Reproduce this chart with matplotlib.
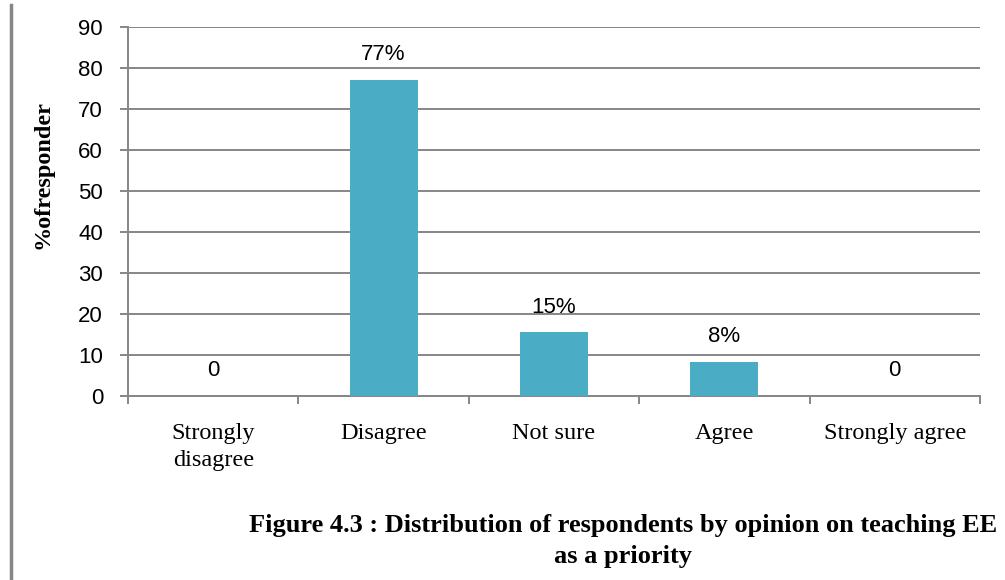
import matplotlib
matplotlib.use('Agg')
import matplotlib.pyplot as plt
from matplotlib.lines import Line2D

categorias = ['Strongly\ndisagree', 'Disagree', 'Not sure', 'Agree', 'Strongly agree']
valores    = [0, 77, 15.4, 8.2, 0]
etiquetas  = ['0', '77%', '15%', '8%', '0']
titulo     = 'Figure 4.3 : Distribution of respondents by opinion on teaching EE\nas a priority'

gris  = '#868686'
azul  = '#4BACC6'
sans  = 'Liberation Sans'
serif = 'Liberation Serif'

fig = plt.figure(figsize=[10.05, 5.8], dpi=100)
ax = fig.add_axes([0.1274, 0.3181, 0.975 - 0.1274, 0.954 - 0.3181])

x = list(range(len(categorias)))
ax.bar(x, valores, width=0.4, color=azul, zorder=3)

#__etiquetas de valor__#
for xi, v, t in zip(x, valores, etiquetas):
    ax.annotate(t, (xi, v), xytext=(0, 18), textcoords='offset points',
                ha='center', va='center', fontsize=16, family=sans, color='black')

ax.set_xlim(-0.5, len(categorias) - 0.5)
ax.set_ylim(0, 90)
ax.set_yticks(range(0, 91, 10))
ax.yaxis.grid(True, color=gris, linewidth=1.4, zorder=0)

ax.set_xticks(x)
ax.set_xticklabels(categorias, fontsize=17.5, family=serif, linespacing=1.35)
ax.set_xticks([i - 0.5 for i in range(len(categorias) + 1)], minor=True)
ax.tick_params(axis='x', which='major', length=0, pad=20)
ax.tick_params(axis='x', which='minor', length=6, width=1.4, color=gris, direction='out')
ax.tick_params(axis='y', length=6, width=1.4, color=gris, pad=12, labelsize=16)
for lbl in ax.get_yticklabels():
    lbl.set_family(sans)

for s in ['top', 'right']:
    ax.spines[s].set_visible(False)
for s in ['left', 'bottom']:
    ax.spines[s].set_color(gris)
    ax.spines[s].set_linewidth(1.4)

fig.text(43 / 1005, 1 - 175 / 580, '%ofresponder', rotation=90, ha='center', va='center',
         fontsize=17.5, fontweight='bold', family=serif)

fig.text(623 / 1005, 1 - 541 / 580, titulo, ha='center', va='center', multialignment='center',
         fontsize=19, fontweight='bold', family=serif, linespacing=1.45)

#__linea gris a la izquierda__#
fig.add_artist(Line2D([11 / 1005, 11 / 1005], [0, 1 - 5 / 580], color=gris, linewidth=2.5,
                      transform=fig.transFigure))

fig.savefig('out.png', dpi=100)
